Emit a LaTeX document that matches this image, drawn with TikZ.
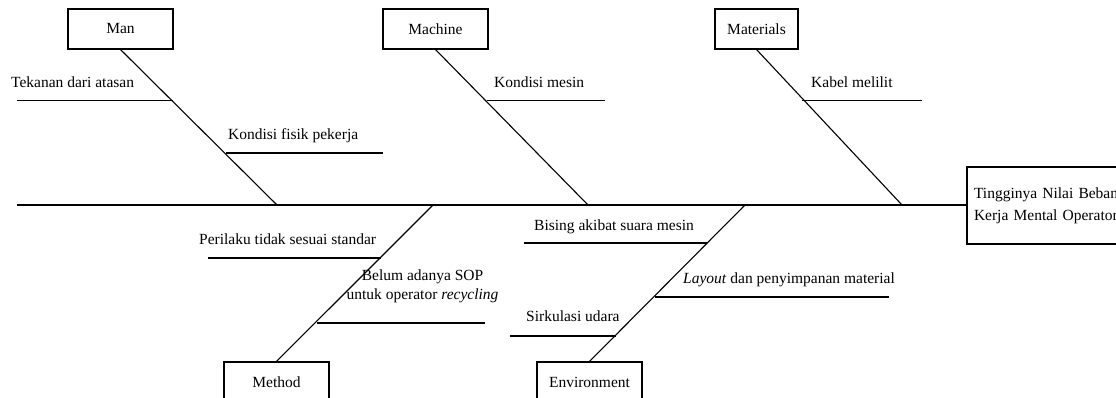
\documentclass[tikz,border=0pt]{standalone}
\usepackage{fontspec}
\setmainfont{Liberation Serif}
\begin{document}
\begin{tikzpicture}[x=1pt,y=-1pt,
    catbox/.style={draw, line width=1.1pt, minimum width=105, minimum height=40, inner sep=2pt,
      font=\fontsize{15.5}{19}\selectfont},
    cause/.style={inner sep=0pt, font=\fontsize{15.5}{19}\selectfont},
    bone/.style={line width=1.1pt}]
    \useasboundingbox (0,0) rectangle (1116,398);

    % Spine height
    \def\spineY{205}

    % Category boxes
    \node[catbox] (man) at (120.5,29) {Man};
    \node[catbox] (machine) at (435.5,29) {Machine};
    \node[catbox, minimum width=83] (materials) at (756.5,29) {Materials};
    \node[catbox] (method) at (276.5,382) {Method};
    \node[catbox] (environment) at (589.5,382) {Environment};

    % Effect box at the head (runs past the right edge)
    \node[catbox, inner xsep=7pt, text width=146, minimum height=77, align=left,
      font=\fontsize{15.5}{21.6}\selectfont] (effect) at (1047,205.5)
      {Tingginya Nilai Beban\\Kerja Mental Operator};

    % Spine
    \coordinate (tail) at (17,\spineY);
    \draw[bone] (tail) -- (effect.west |- tail);

    % Points where the bones meet the spine
    \foreach \nm/\xs in {man/277, machine/588, materials/902, method/433, environment/745}{
        \coordinate (\nm S) at (\xs,\spineY);
      }

    % Bones
    \foreach \nm in {man,machine,materials}{
        \draw[bone] (\nm.south) -- (\nm S);
      }
    \foreach \nm in {method,environment}{
        \draw[bone] (\nm.north) -- (\nm S);
      }

    % Sub-cause lines: name / x on bone / free x / y
    \foreach \nm/\xb/\xa/\yy in {tekanan/173/17/100.5, fisik/226/383/153,
        mesin/487/605/100.5, kabel/802/922/100.5,
        perilaku/381/208/258, sop/317/485/323,
        bising/707/524/243, layout/655/889/297, sirkulasi/616/510/336}{
        \coordinate (\nm B) at (\xb,\yy);
        \coordinate (\nm A) at (\xa,\yy);
        \draw[bone] (\nm B) -- (\nm A);
      }

    % Sub-cause labels
    \node[cause, anchor=base west] (tekananL) at (11,87.5) {Tekanan dari atasan};
    \node[cause, anchor=base west] (fisikL) at (228,139.5) {Kondisi fisik pekerja};
    \node[cause, anchor=base west] (mesinL) at (494,87.5) {Kondisi mesin};
    \node[cause, anchor=base west] (kabelL) at (811,87.5) {Kabel melilit};
    \node[cause, anchor=base west] (perilakuL) at (199,244) {Perilaku tidak sesuai standar};
    \node[cause, anchor=base, align=center] (sopL) at (422.5,299.3)
      {Belum adanya SOP\\untuk operator \textit{recycling}};
    \node[cause, anchor=base west] (bisingL) at (534,230.7) {Bising akibat suara mesin};
    \node[cause, anchor=base west] (layoutL) at (683,283.3) {\textit{Layout} dan penyimpanan material};
    \node[cause, anchor=base west] (sirkulasiL) at (526,321.7) {Sirkulasi udara};
  \end{tikzpicture}
\end{document}
